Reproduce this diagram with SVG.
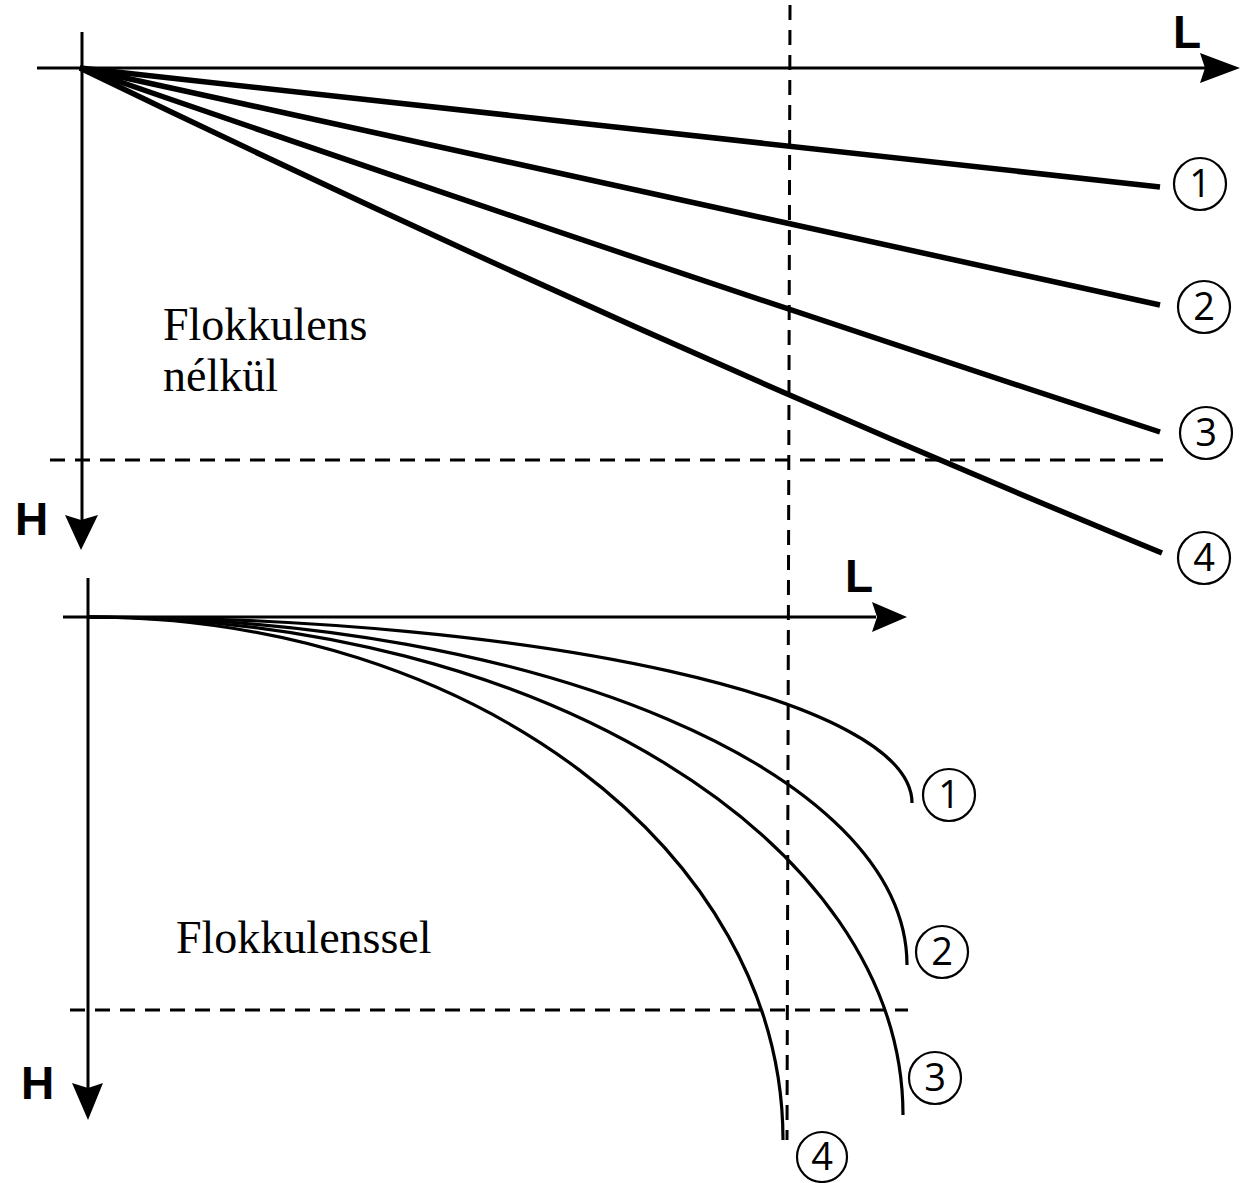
<svg xmlns="http://www.w3.org/2000/svg" width="1243" height="1183" viewBox="0 0 1243 1183">
<style>
.axis{stroke:#000;stroke-width:3;fill:none}
.ray{stroke:#000;stroke-width:5.5;fill:none;stroke-linecap:butt}
.crv{stroke:#000;stroke-width:3.2;fill:none}
.dash{stroke:#000;stroke-width:3;fill:none;stroke-dasharray:15 10}
.head{fill:#000}
.ax{font-family:"Liberation Sans",Arial,sans-serif;font-weight:bold;font-size:46px;fill:#000}
.lbl{font-family:"Liberation Serif","Times New Roman",serif;font-size:46px;fill:#000}
.circ{fill:none;stroke:#000;stroke-width:2.2}
.num{font-family:"Open Sans","Liberation Sans",sans-serif;font-size:38px;fill:#000;text-anchor:middle}
</style>
<rect width="1243" height="1183" fill="#fff"/>
<g id="axes">
<line class="axis" x1="37" y1="68" x2="1205" y2="68"/>
<polygon class="head" points="1200,53 1240,68 1200,83 1205,68"/>
<line class="axis" x1="82" y1="32" x2="82" y2="520" stroke-width="4"/>
<polygon class="head" points="65,515 81,550 98,515 81,520"/>
<line class="axis" x1="63" y1="617" x2="876" y2="617"/>
<polygon class="head" points="872,602 907,617 872,632 877,617"/>
<line class="axis" x1="88" y1="578" x2="88" y2="1088"/>
<polygon class="head" points="72,1083 88,1120 103,1083 88,1088"/>
<text class="ax" x="1173" y="48">L</text>
<text class="ax" x="845" y="592">L</text>
<text class="ax" x="15" y="535">H</text>
<text class="ax" x="21" y="1099">H</text>
</g>
<g id="guides">
<line class="dash" x1="50" y1="460" x2="1163" y2="460"/>
<line class="dash" x1="70" y1="1010" x2="908" y2="1010"/>
<line class="dash" x1="790" y1="5" x2="787" y2="1140"/>
</g>
<g id="connectors">
<line class="ray" x1="80" y1="68" x2="1160" y2="187"/>
<line class="ray" x1="80" y1="68" x2="1160" y2="305"/>
<path class="ray" d="M80,68 Q620,255 1160,432"/>
<path class="ray" d="M80,68 Q620,330 1162,553"/>
<path class="crv" d="M88,617 C543,617 912,700 912,803"/>
<path class="crv" d="M88,617 C540,617 907,773 907,965"/>
<path class="crv" d="M88,617 C538,617 903,840 903,1115"/>
<path class="crv" d="M88,617 C472,617 783,851 783,1140"/>
</g>
<g id="labels">
<text class="lbl" x="163" y="340">Flokkulens</text>
<text class="lbl" x="163" y="391">nélkül</text>
<text class="lbl" x="176" y="953">Flokkulenssel</text>
</g>
<g id="n1-top"><circle class="circ" cx="1200" cy="184" r="26"/><text class="num" x="1200" y="197">1</text></g>
<g id="n2-top"><circle class="circ" cx="1204" cy="307" r="26"/><text class="num" x="1204" y="320">2</text></g>
<g id="n3-top"><circle class="circ" cx="1206" cy="433" r="26"/><text class="num" x="1206" y="446">3</text></g>
<g id="n4-top"><circle class="circ" cx="1204" cy="558" r="26"/><text class="num" x="1204" y="571">4</text></g>
<g id="n1-bot"><circle class="circ" cx="949" cy="795" r="26"/><text class="num" x="949" y="808">1</text></g>
<g id="n2-bot"><circle class="circ" cx="942" cy="952" r="26"/><text class="num" x="942" y="965">2</text></g>
<g id="n3-bot"><circle class="circ" cx="935" cy="1078" r="26"/><text class="num" x="935" y="1091">3</text></g>
<g id="n4-bot"><circle class="circ" cx="822" cy="1157" r="25"/><text class="num" x="822" y="1170">4</text></g>
</svg>
